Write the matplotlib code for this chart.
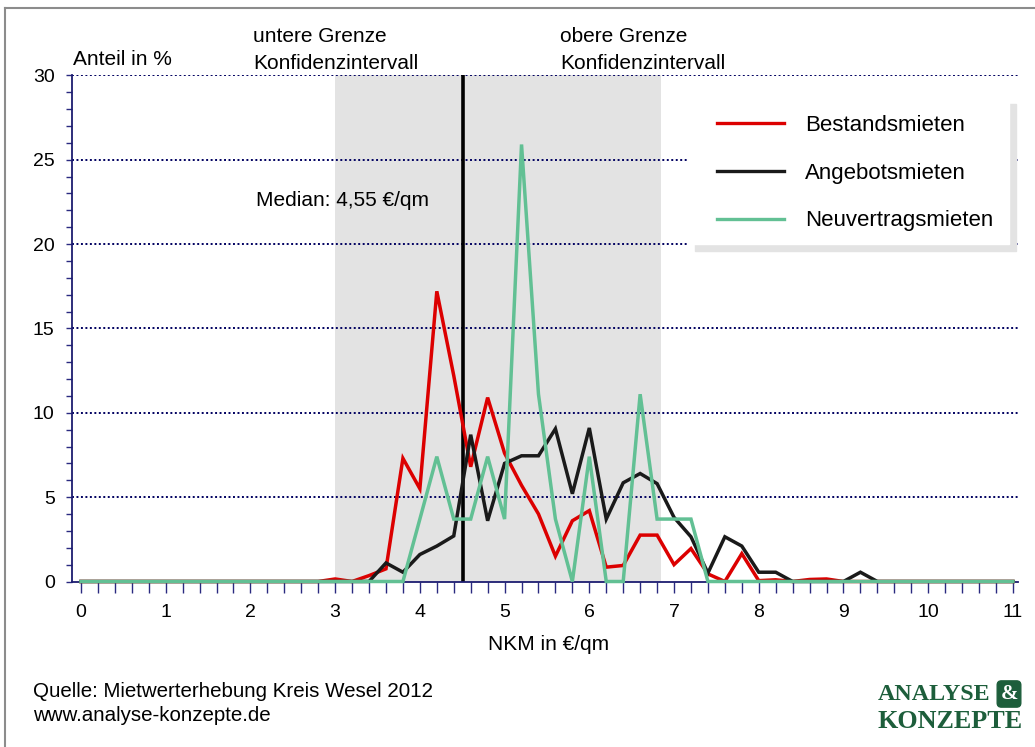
import numpy as np
import matplotlib
matplotlib.use('Agg')
import matplotlib.pyplot as plt
from matplotlib.ticker import MultipleLocator
from matplotlib.patches import Rectangle
from matplotlib.lines import Line2D

plt.rcParams['font.family'] = ['Liberation Sans', 'DejaVu Sans']

# NKM classes in EUR/qm, steps of 0.2
nkm = [0.0, 0.2, 0.4, 0.6, 0.8, 1.0, 1.2, 1.4, 1.6, 1.8,
       2.0, 2.2, 2.4, 2.6, 2.8, 3.0, 3.2, 3.4, 3.6, 3.8,
       4.0, 4.2, 4.4, 4.6, 4.8, 5.0, 5.2, 5.4, 5.6, 5.8,
       6.0, 6.2, 6.4, 6.6, 6.8, 7.0, 7.2, 7.4, 7.6, 7.8,
       8.0, 8.2, 8.4, 8.6, 8.8, 9.0, 9.2, 9.4, 9.6, 9.8,
       10.0, 10.2, 10.4, 10.6, 10.8, 11.0]

bestand = [0, 0, 0, 0, 0, 0, 0, 0, 0, 0,
           0, 0, 0, 0, 0, 0.15, 0, 0.35, 0.75, 7.3,
           5.5, 17.2, 12.2, 6.8, 10.9, 7.6, 5.7, 4.0, 1.5, 3.6,
           4.2, 0.85, 0.95, 2.75, 2.75, 1.0, 1.95, 0.45, 0, 1.65,
           0.05, 0.1, 0, 0.12, 0.15, 0, 0, 0, 0, 0,
           0, 0, 0, 0, 0, 0]

angebot = [0, 0, 0, 0, 0, 0, 0, 0, 0, 0,
           0, 0, 0, 0, 0, 0, 0, 0, 1.1, 0.55,
           1.6, 2.1, 2.7, 8.7, 3.6, 7.0, 7.45, 7.45, 9.05, 5.2,
           9.1, 3.7, 5.85, 6.4, 5.8, 3.8, 2.65, 0.5, 2.65, 2.1,
           0.55, 0.55, 0, 0, 0, 0, 0.55, 0, 0, 0,
           0, 0, 0, 0, 0, 0]

neuvertrag = [0, 0, 0, 0, 0, 0, 0, 0, 0, 0,
              0, 0, 0, 0, 0, 0, 0, 0, 0, 0,
              3.7, 7.4, 3.7, 3.7, 7.4, 3.7, 25.9, 11.1, 3.7, 0,
              7.4, 0, 0, 11.1, 3.7, 3.7, 3.7, 0, 0, 0,
              0, 0, 0, 0, 0, 0, 0, 0, 0, 0,
              0, 0, 0, 0, 0, 0]

series_names = ['Bestandsmieten', 'Angebotsmieten', 'Neuvertragsmieten']
ki_lower = 3.0
ki_upper = 6.85
median = 4.51

W, H = 1035, 747
def px(x, y):
    return x / W, 1 - y / H

fig = plt.figure(figsize=(W / 100, H / 100), dpi=100)
ax = fig.add_axes([72 / W, 1 - 581.5 / H, 946 / W, 506.2 / H])

navy = '#1c1c70'
ax.axvspan(ki_lower, ki_upper, color='#e3e3e3', zorder=0, lw=0)
for yv in range(5, 31, 5):
    ax.axhline(yv, color='#000060', lw=1.4, ls=(0, (1, 1.3)), zorder=1)
ax.axvline(median, color='black', lw=2.6, zorder=2)

colors = ['#dc0000', '#1a1a1a', '#62c094']
lines = []
for vals, c, name in zip([bestand, angebot, neuvertrag], colors, series_names):
    ln, = ax.plot(nkm, vals, color=c, lw=2.5, label=name, zorder=3,
                  clip_on=False, solid_joinstyle='miter')
    lines.append(ln)

ax.set_xlim(-0.106, 11.06)
ax.set_ylim(0, 30)
ax.xaxis.set_major_locator(MultipleLocator(1))
ax.xaxis.set_minor_locator(MultipleLocator(0.2))
ax.yaxis.set_major_locator(MultipleLocator(5))
ax.yaxis.set_minor_locator(MultipleLocator(1))
ax.tick_params(axis='x', which='both', direction='out', length=8, width=1,
               color='#2a2a80', pad=8, labelsize=14)
ax.tick_params(axis='y', which='both', direction='out', length=4.5, width=1,
               color='#2a2a80', pad=8, labelsize=14)
for s in ['top', 'right']:
    ax.spines[s].set_visible(False)
for s in ['left', 'bottom']:
    ax.spines[s].set_color(navy)
    ax.spines[s].set_linewidth(1.3)
ax.patch.set_alpha(0)

# legend box with shadow
bx0, by0, bx1, by1 = 688, 97, 1009, 244
x0, y0 = px(bx0 + 7, by1 + 7)
fig.add_artist(Rectangle((x0, y0), (bx1 - bx0) / W, (by1 - by0) / H,
                         transform=fig.transFigure, color='#e3e3e3', zorder=1))
x0, y0 = px(bx0, by1)
fig.add_artist(Rectangle((x0, y0), (bx1 - bx0) / W, (by1 - by0) / H,
                         transform=fig.transFigure, color='white', zorder=1.5))
leg = fig.legend(handles=lines, loc='upper left', bbox_to_anchor=px(717, 115),
                 frameon=False, fontsize=16, handlelength=3.0,
                 handletextpad=0.95, labelspacing=1.2, borderpad=0,
                 borderaxespad=0)
leg.set_zorder(2)
for h in leg.legend_handles:
    h.set_linewidth(2.4)

fs = 15
fig.text(*px(73, 65), 'Anteil in %', fontsize=fs, va='baseline')
fig.text(*px(253, 42), 'untere Grenze', fontsize=fs, va='baseline')
fig.text(*px(253, 69), 'Konfidenzintervall', fontsize=fs, va='baseline')
fig.text(*px(560, 42), 'obere Grenze', fontsize=fs, va='baseline')
fig.text(*px(560, 69), 'Konfidenzintervall', fontsize=fs, va='baseline')
fig.text(*px(256, 206), 'Median: 4,55 €/qm', fontsize=fs, va='baseline')
fig.text(*px(549, 650), 'NKM in €/qm', fontsize=fs, va='baseline', ha='center')
fig.text(*px(33, 697), 'Quelle: Mietwerterhebung Kreis Wesel 2012', fontsize=14.8, va='baseline')
fig.text(*px(33, 721), 'www.analyse-konzepte.de', fontsize=14.8, va='baseline')

# logo
green = '#1d5e3b'
fig.text(*px(878, 700), 'ANALYSE', fontsize=17.3, va='baseline', color=green,
         family='Liberation Serif', weight='bold')
fig.text(*px(878, 728), 'KONZEPTE', fontsize=18.8, va='baseline', color=green,
         family='Liberation Serif', weight='bold')
fig.text(*px(1009, 694), '&', fontsize=15, va='center', ha='center', color='white',
         family='Liberation Serif', weight='bold',
         bbox=dict(boxstyle='round,pad=0.15,rounding_size=0.2', fc=green, ec=green))

# frame
fig.add_artist(Line2D([5 / W, 5 / W], [0, 1 - 8 / H], transform=fig.transFigure,
                      color='#8c8c8c', lw=1.5))
fig.add_artist(Line2D([5 / W, 1], [1 - 8 / H, 1 - 8 / H], transform=fig.transFigure,
                      color='#8c8c8c', lw=1.5))

fig.savefig('out.png', dpi=100)
